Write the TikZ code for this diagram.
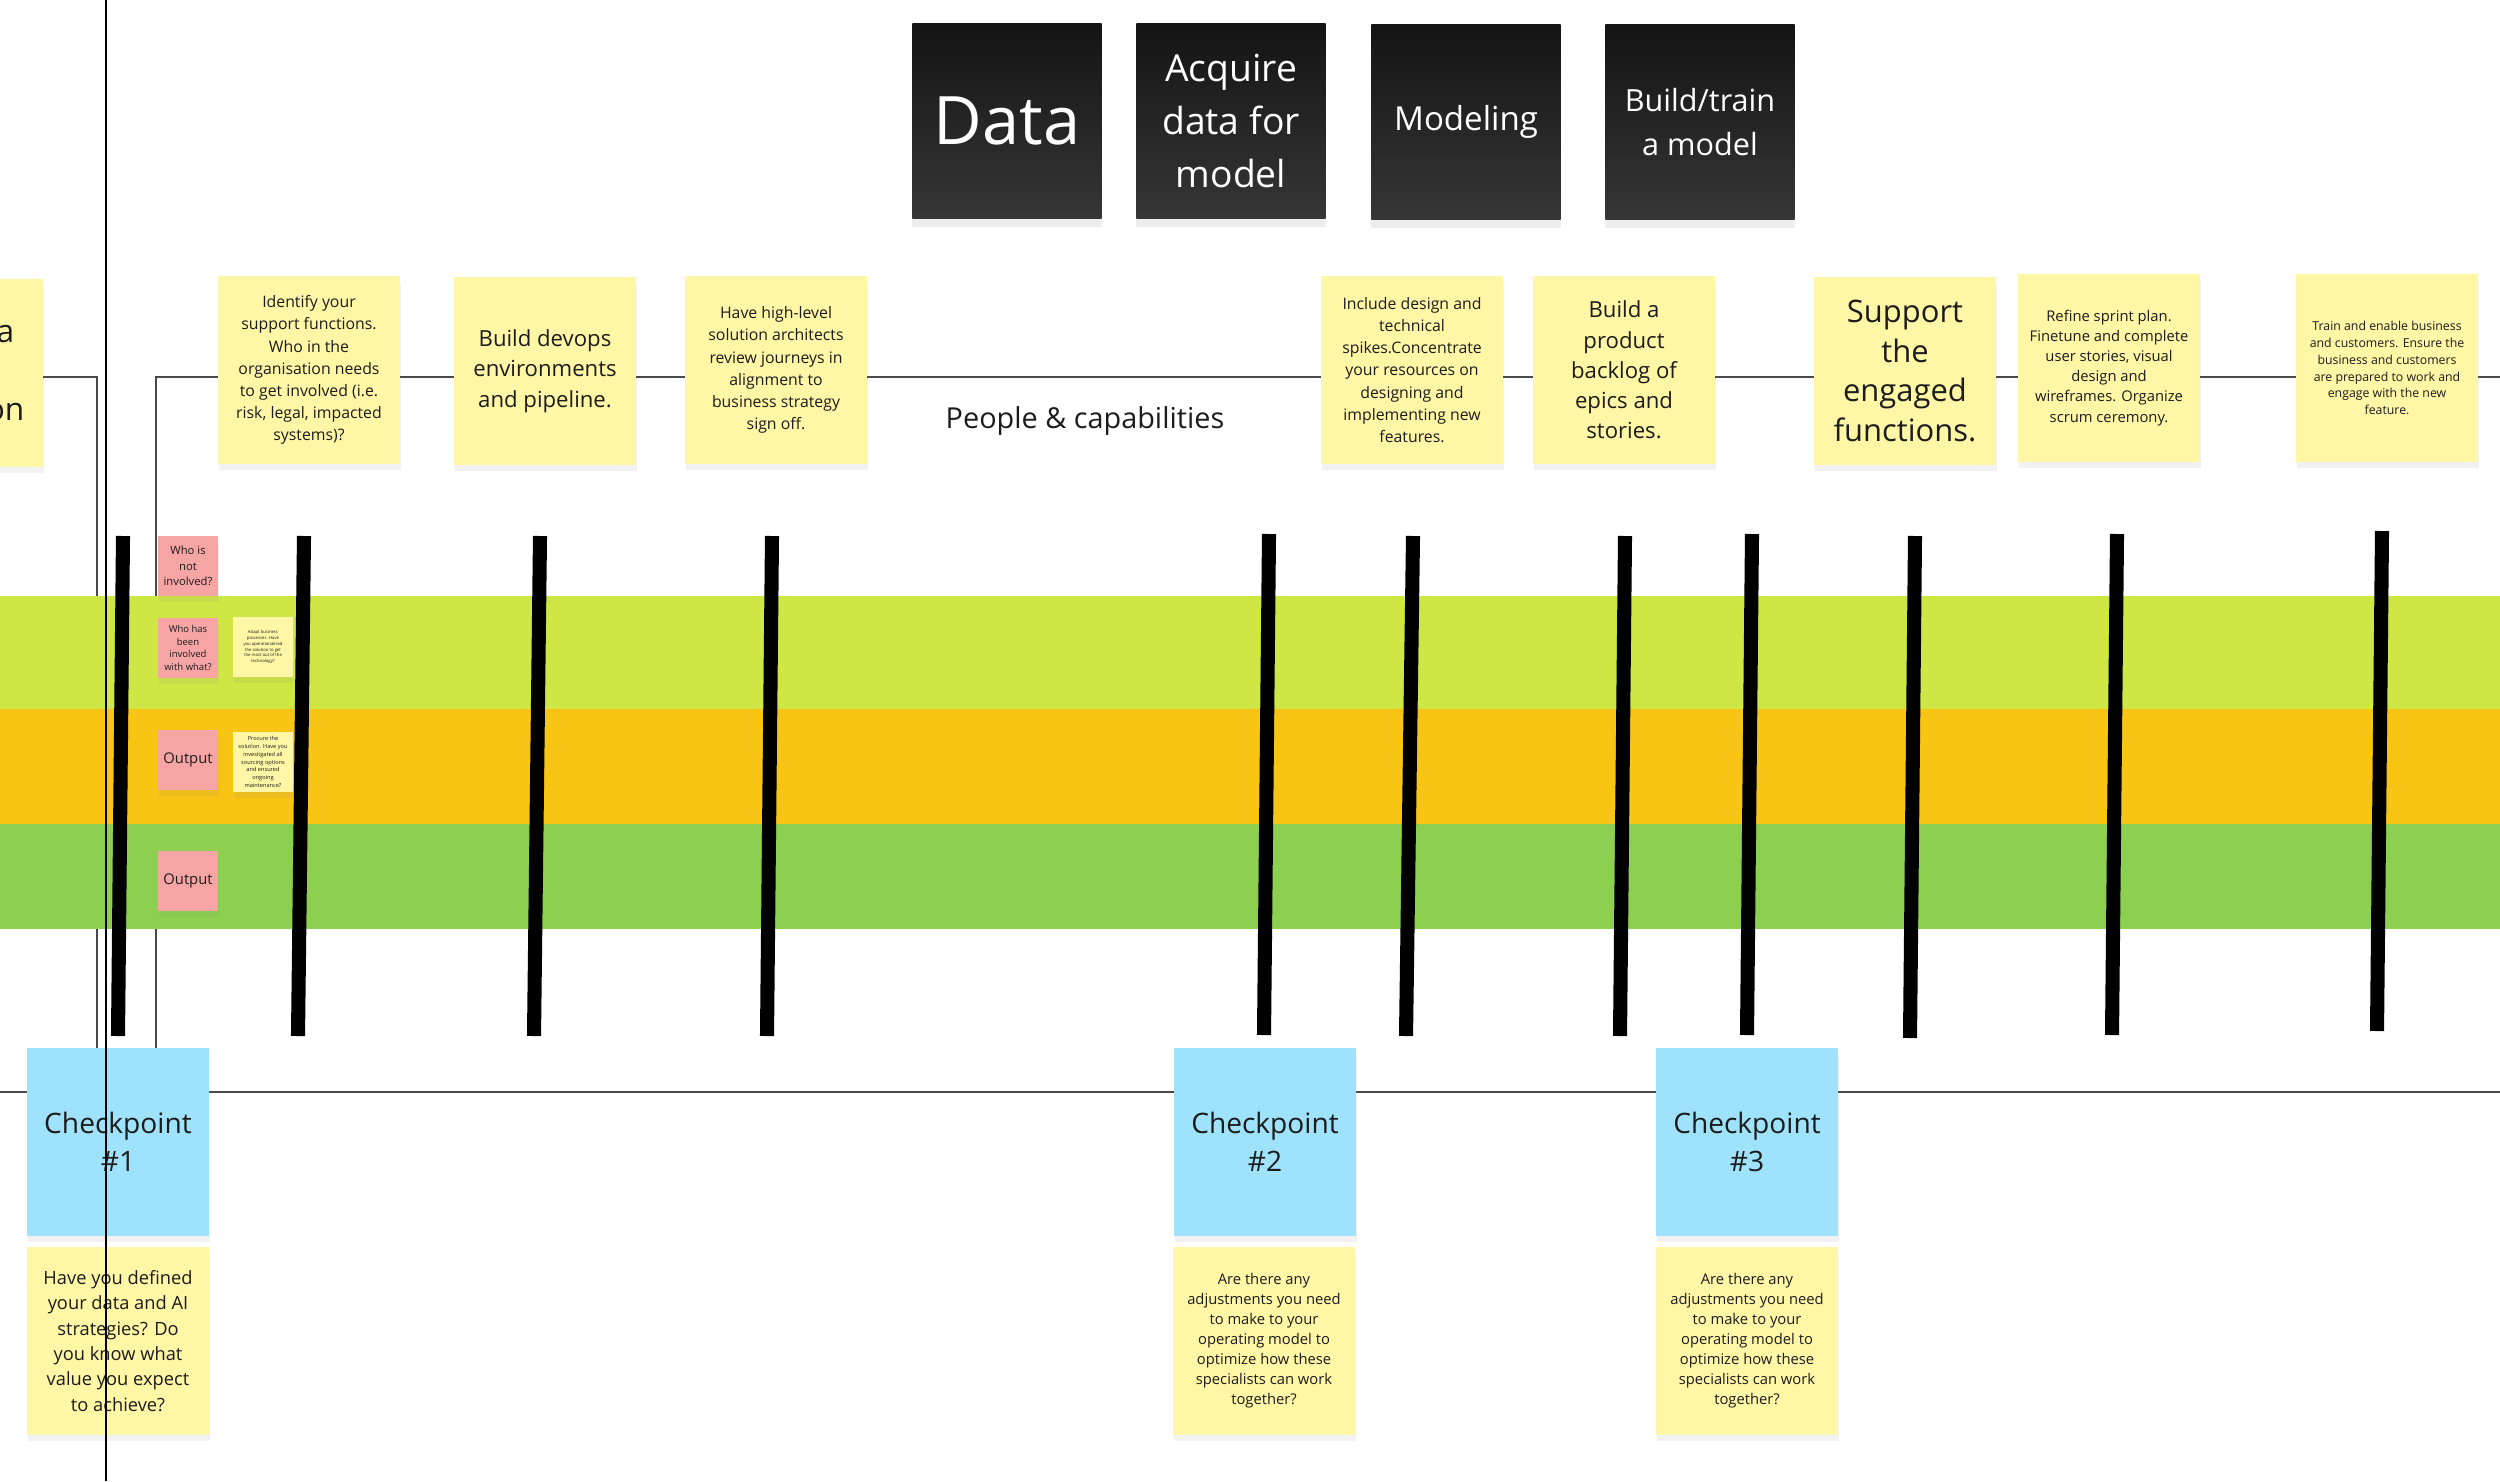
\documentclass[tikz,border=0pt]{standalone}
\usepackage{fontspec}
\setmainfont{Open Sans}
\usetikzlibrary{shadows}
\definecolor{stickyyellow}{HTML}{FFF6A6}
\definecolor{stickypink}{HTML}{F7A4A4}
\definecolor{stickyblue}{HTML}{9EE3FB}
\definecolor{bandlime}{HTML}{CFE744}
\definecolor{bandamber}{HTML}{F9C514}
\definecolor{bandgreen}{HTML}{8DD04F}
\definecolor{headtop}{HTML}{141414}
\definecolor{headbot}{HTML}{363636}
\definecolor{wire}{HTML}{4A4A4A}
\definecolor{ink}{HTML}{1C1C1C}
\newcommand{\fsz}[2]{\fontsize{#1}{#2}\selectfont}
\tikzset{
  note/.style={fill=stickyyellow, inner sep=0pt, align=center, text=ink,
    minimum width=1.82cm, minimum height=1.87cm,
    drop shadow={shadow xshift=0.2pt, shadow yshift=-1.8pt, opacity=0.10}},
  check/.style={note, fill=stickyblue},
  tag/.style={note, fill=stickypink, minimum width=0.6cm, minimum height=0.6cm},
  mini/.style={note, minimum width=0.59cm, minimum height=0.6cm},
  head/.style={top color=headtop, bottom color=headbot, text=white, align=center, inner sep=0pt,
    minimum width=1.89cm, minimum height=1.95cm,
    drop shadow={shadow xshift=0pt, shadow yshift=-2.5pt, opacity=0.14}},
  pole/.style={line width=4pt},
  wirel/.style={draw=wire, line width=0.55pt},
  edgetxt/.style={anchor=base east, inner sep=0pt, text=ink, font=\fsz{9}{11.2}},
}
\begin{document}
\begin{tikzpicture}[x=0.01cm, y=-0.01cm]
    \useasboundingbox (0,0) rectangle (2500,1481);
    \fill[white] (0,0) rectangle (2500,1481);
    \clip (0,0) rectangle (2500,1481);
    \draw[wirel] (0,377) -- (97,377) -- (97,1049);
    \draw[wirel] (156,1049) -- (156,377) -- (2500,377);
    \draw[wirel] (0,1092) -- (2500,1092);
    \fill[bandlime] (0,596) rectangle (2500,709);
    \fill[bandamber] (0,709) rectangle (2500,824);
    \fill[bandgreen] (0,824) rectangle (2500,929);
    \node[head, font=\fsz{19}{23}] (data) at (1007,121) {Data};
    \node[head, font=\fsz{10.6}{15.2}] (acquire) at (1231,121) {Acquire\\data for\\model};
    \node[head, font=\fsz{9.4}{12}] (modeling) at (1466,122) {Modeling};
    \node[head, font=\fsz{8.7}{12.3}] (buildtrain) at (1700,122) {Build/train\\a model};
    \node[note] (edge) at (-48,373) {};
    \node[edgetxt] (edgea) at (15,342) {a};
    \node[edgetxt] (edgeon) at (25,420) {on};
    \node[note, font=\fsz{4.5}{6.3}] (identify) at (309,370) {Identify your\\support functions.\\Who in the\\organisation needs\\to get involved (i.e.\\risk, legal, impacted\\systems)?};
    \node[note, font=\fsz{6.3}{8.6}] (devops) at (545,371) {Build devops\\environments\\and pipeline.};
    \node[note, font=\fsz{4.5}{6.3}] (architects) at (776,370) {Have high-level\\solution architects\\review journeys in\\alignment to\\business strategy\\sign off.};
    \node[text=ink, font=\fsz{8.2}{10}] (people) at (1085,421) {People \& capabilities};
    \node[note, font=\fsz{4.5}{6.3}] (spikes) at (1412,370) {Include design and\\technical\\spikes.Concentrate\\your resources on\\designing and\\implementing new\\features.};
    \node[note, font=\fsz{6.3}{8.6}] (backlog) at (1624,370) {Build a\\product\\backlog of\\epics and\\stories.};
    \node[note, font=\fsz{8.8}{11.2}] (support) at (1905,371) {Support\\the\\engaged\\functions.};
    \node[note, font=\fsz{4.2}{5.7}] (sprint) at (2109,368) {Refine sprint plan.\\Finetune and complete\\user stories, visual\\design and\\wireframes. Organize\\scrum ceremony.};
    \node[note, font=\fsz{3.5}{4.8}] (train) at (2387,368) {Train and enable business\\and customers. Ensure the\\business and customers\\are prepared to work and\\engage with the new\\feature.};
    \node[tag, font=\fsz{3.2}{4.4}] (notinv) at (188,566) {Who is\\not\\involved?};
    \node[tag, font=\fsz{2.7}{3.6}] (hasinv) at (188,648) {Who has\\been\\involved\\with what?};
    \node[mini, font=\fsz{1.2}{1.66}] (adapt) at (263,647) {Adapt business\\processes. Have\\you operationalised\\the solution to get\\the most out of the\\technology?};
    \node[tag, font=\fsz{4.2}{5}] (outa) at (188,760) {Output};
    \node[mini, font=\fsz{1.6}{2.2}] (procure) at (263,762) {Procure the\\solution. Have you\\investigated all\\sourcing options\\and ensured\\ongoing\\maintenance?};
    \node[tag, font=\fsz{4.2}{5}] (outb) at (188,881) {Output};
    \node[check, font=\fsz{8}{10.9}] (cpone) at (118,1142) {Checkpoint\\\#1};
    \node[note, font=\fsz{5.2}{7.2}] (cponeq) at (118,1341) {Have you defined\\your data and AI\\strategies? Do\\you know what\\value you expect\\to achieve?};
    \node[check, font=\fsz{8}{10.9}] (cptwo) at (1265,1142) {Checkpoint\\\#2};
    \node[note, font=\fsz{4.2}{5.7}] (cptwoq) at (1264,1341) {Are there any\\adjustments you need\\to make to your\\operating model to\\optimize how these\\specialists can work\\together?};
    \node[check, font=\fsz{8}{10.9}] (cpthree) at (1747,1142) {Checkpoint\\\#3};
    \node[note, font=\fsz{4.2}{5.7}] (cpthreeq) at (1747,1341) {Are there any\\adjustments you need\\to make to your\\operating model to\\optimize how these\\specialists can work\\together?};
    \draw[pole] (123,536) -- (118,1036);
    \draw[pole] (304,536) -- (298,1036);
    \draw[pole] (540,536) -- (534,1036);
    \draw[pole] (772,536) -- (767,1036);
    \draw[pole] (1269,534) -- (1264,1035);
    \draw[pole] (1413,536) -- (1406,1036);
    \draw[pole] (1625,536) -- (1620,1036);
    \draw[pole] (1752,534) -- (1747,1035);
    \draw[pole] (1915,536) -- (1910,1038);
    \draw[pole] (2117,534) -- (2112,1035);
    \draw[pole] (2382,531) -- (2377,1031);
    \draw[line width=0.8pt] (106,0) -- (106,1481);
\end{tikzpicture}
\end{document}
